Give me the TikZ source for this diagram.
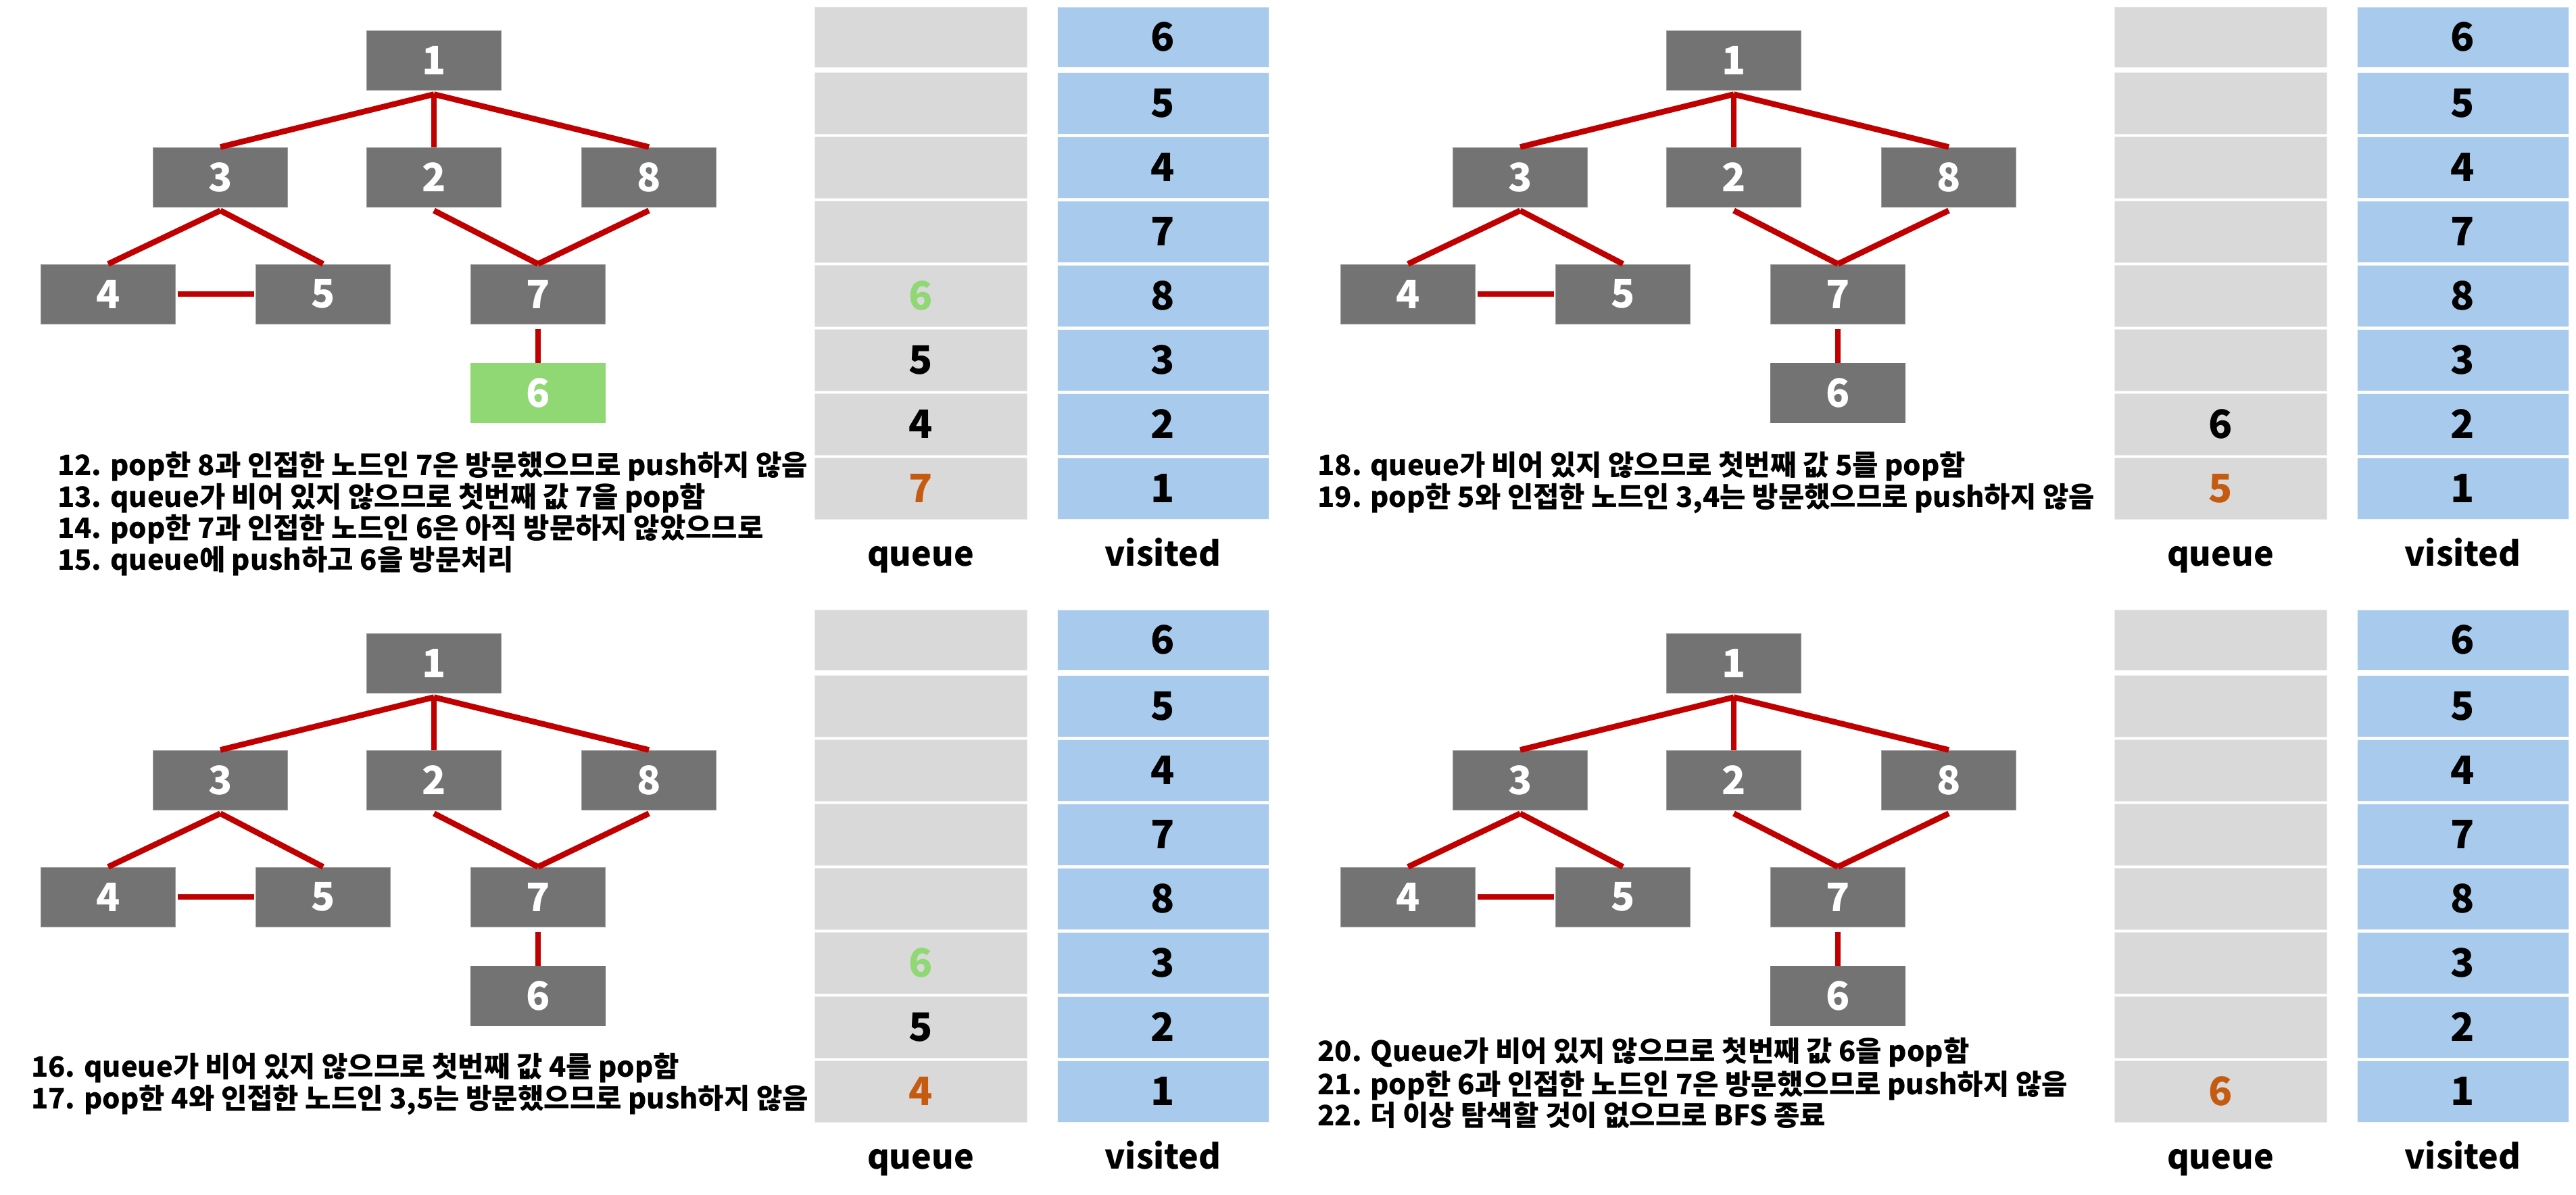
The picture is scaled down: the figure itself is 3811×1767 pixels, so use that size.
\documentclass[tikz,border=0pt]{standalone}
\usepackage{fontspec}
\setmainfont{Noto Sans CJK KR}
\definecolor{ngray}{HTML}{737373}
\definecolor{ngreen}{HTML}{8FD873}
\definecolor{qgray}{HTML}{D9D9D9}
\definecolor{vblue}{HTML}{A8CAEC}
\definecolor{ered}{HTML}{C00000}
\definecolor{qorange}{HTML}{C55A11}
\tikzset{
  tnode/.style={fill=ngray, draw=ngray!70!white, line width=1pt, minimum width=199pt, minimum height=88pt, inner sep=0pt, text=white, font=\fontsize{58}{60}\selectfont\bfseries},
  edge/.style={draw=ered, line width=8.5pt},
  qcell/.style={fill=qgray, draw=white!92!black, line width=0.8pt, minimum width=314pt, inner sep=0pt, font=\fontsize{58}{60}\selectfont\bfseries},
  vcell/.style={fill=vblue, draw=white!85!vblue, line width=0.8pt, minimum width=313pt, inner sep=0pt, font=\fontsize{58}{60}\selectfont\bfseries},
  lbl/.style={inner sep=0pt, anchor=base, font=\fontsize{50}{52}\selectfont\bfseries},
  txt/.style={inner sep=0pt, anchor=base west, font=\fontsize{41.7}{47}\selectfont\bfseries}
}
\newcommand\mytree[2]{%
  \node[tnode] (#1n1) at (642,89) {1};
  \node[tnode] (#1n3) at (326,262) {3};
  \node[tnode] (#1n2) at (642,262) {2};
  \node[tnode] (#1n8) at (960,262) {8};
  \node[tnode] (#1n4) at (160,435) {4};
  \node[tnode] (#1n5) at (478,435) {5};
  \node[tnode] (#1n7) at (796,435) {7};
  \node[tnode,fill=#2,draw=#2] (#1n6) at (796,581) {6};
  \draw[edge] ([yshift=-6pt]#1n1.south) -- (#1n3.north);
  \draw[edge] ([yshift=-6pt]#1n1.south) -- (#1n2.north);
  \draw[edge] ([yshift=-6pt]#1n1.south) -- (#1n8.north);
  \draw[edge] ([yshift=-5pt]#1n3.south) -- (#1n4.north);
  \draw[edge] ([yshift=-5pt]#1n3.south) -- (#1n5.north);
  \draw[edge] ([yshift=-5pt]#1n2.south) -- (#1n7.north);
  \draw[edge] ([yshift=-5pt]#1n8.south) -- (#1n7.north);
  \draw[edge] ([xshift=3pt]#1n4.east) -- ([xshift=-2pt]#1n5.west);
  \draw[edge] ([yshift=-7pt]#1n7.south) -- (#1n6.north);
}
\newcommand\mycells[9]{%
  \node[qcell,minimum height=89pt] (#1q1) at (1362,54.5) {#2};
  \node[qcell,minimum height=91pt] (#1q2) at (1362,152.5) {#3};
  \node[qcell,minimum height=91pt] (#1q3) at (1362,247.5) {#4};
  \node[qcell,minimum height=91pt] (#1q4) at (1362,342.5) {#5};
  \node[qcell,minimum height=91pt] (#1q5) at (1362,437.5) {#6};
  \node[qcell,minimum height=91pt] (#1q6) at (1362,532.5) {#7};
  \node[qcell,minimum height=91pt] (#1q7) at (1362,627.5) {#8};
  \node[qcell,minimum height=91pt] (#1q8) at (1362,722.5) {#9};
  \node[vcell,minimum height=89pt] (#1v1) at (1720.5,54.5) {6};
  \node[vcell,minimum height=91pt] (#1v2) at (1720.5,152.5) {5};
  \node[vcell,minimum height=91pt] (#1v3) at (1720.5,247.5) {4};
  \node[vcell,minimum height=91pt] (#1v4) at (1720.5,342.5) {7};
  \node[vcell,minimum height=91pt] (#1v5) at (1720.5,437.5) {8};
  \node[vcell,minimum height=91pt] (#1v6) at (1720.5,532.5) {3};
  \node[vcell,minimum height=91pt] (#1v7) at (1720.5,627.5) {2};
  \node[vcell,minimum height=91pt] (#1v8) at (1720.5,722.5) {1};
  \node[lbl] (#1lq) at (1362,837) {queue};
  \node[lbl] (#1lv) at (1720.5,837) {visited};
}
\begin{document}
\begin{tikzpicture}[x=1pt,y=-1pt]
\useasboundingbox[fill=white] (0,0) rectangle (3811,1767);
% top-left
\begin{scope}
  \mytree{A}{ngreen}
  \mycells{A}{}{}{}{}{\textcolor{ngreen}{6}}{5}{4}{\textcolor{qorange}{7}}
  \node[txt] (At1) at (85,703) {12. pop한 8과 인접한 노드인 7은 방문했으므로 push하지 않음};
  \node[txt] (At2) at (85,750) {13. queue가 비어 있지 않으므로 첫번째 값 7을 pop함};
  \node[txt] (At3) at (85,796) {14. pop한 7과 인접한 노드인 6은 아직 방문하지 않았으므로};
  \node[txt] (At4) at (85,843) {15. queue에 push하고 6을 방문처리};
\end{scope}
% top-right
\begin{scope}[shift={(1923,0)}]
  \mytree{B}{ngray}
  \mycells{B}{}{}{}{}{}{}{6}{\textcolor{qorange}{5}}
  \node[txt] (Bt1) at (26,703) {18. queue가 비어 있지 않으므로 첫번째 값 5를 pop함};
  \node[txt] (Bt2) at (26,750) {19. pop한 5와 인접한 노드인 3,4는 방문했으므로 push하지 않음};
\end{scope}
% bottom-left
\begin{scope}[shift={(0,892)}]
  \mytree{C}{ngray}
  \mycells{C}{}{}{}{}{}{\textcolor{ngreen}{6}}{5}{\textcolor{qorange}{4}}
  \node[txt] (Ct1) at (46,701) {16. queue가 비어 있지 않으므로 첫번째 값 4를 pop함};
  \node[txt] (Ct2) at (46,748) {17. pop한 4와 인접한 노드인 3,5는 방문했으므로 push하지 않음};
\end{scope}
% bottom-right
\begin{scope}[shift={(1923,892)}]
  \mytree{D}{ngray}
  \mycells{D}{}{}{}{}{}{}{}{\textcolor{qorange}{6}}
  \node[txt] (Dt1) at (26,678) {20. Queue가 비어 있지 않으므로 첫번째 값 6을 pop함};
  \node[txt] (Dt2) at (26,727) {21. pop한 6과 인접한 노드인 7은 방문했으므로 push하지 않음};
  \node[txt] (Dt3) at (26,773) {22. 더 이상 탐색할 것이 없으므로 BFS 종료};
\end{scope}
\end{tikzpicture}
\end{document}
